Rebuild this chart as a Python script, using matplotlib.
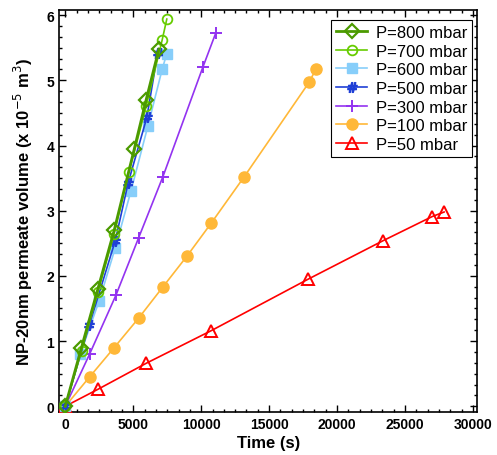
import matplotlib.pyplot as plt
from matplotlib.ticker import MultipleLocator

plt.rcParams['font.family'] = ['Liberation Sans', 'DejaVu Sans']

# ---------------------------------------------
# DATA
# ---------------------------------------------

t800 = [0, 1180, 2400, 3600, 5070, 5950, 6890]
v800 = [0, 0.89, 1.80, 2.70, 3.94, 4.70, 5.48]

t700 = [0, 1200, 2400, 3600, 4700, 5950, 7130, 7470]
v700 = [0, 0.85, 1.75, 2.65, 3.60, 4.60, 5.62, 5.94]

t600 = [0, 1100, 2500, 3680, 4830, 6080, 7130, 7470]
v600 = [0, 0.80, 1.62, 2.43, 3.30, 4.30, 5.17, 5.41]

t500 = [0, 1760, 3680, 4630, 6000, 6800]
v500 = [0, 1.24, 2.54, 3.43, 4.43, 5.42]

t300 = [0, 1790, 3720, 5390, 7180, 10120, 11080]
v300 = [0, 0.80, 1.70, 2.58, 3.52, 5.20, 5.73]

t100 = [0, 1790, 3560, 5390, 7180, 8940, 10740, 13160, 17940, 18460]
v100 = [0, 0.45, 0.89, 1.35, 1.83, 2.30, 2.81, 3.52, 4.97, 5.18]

t50 = [0, 2400, 5960, 10740, 17870, 23380, 26990, 27870]
v50 = [0, 0.26, 0.66, 1.16, 1.95, 2.54, 2.91, 2.98]

# ---------------------------------------------
# PLOT
# ---------------------------------------------

fig = plt.figure(figsize=(4.97, 4.56), dpi=100)
ax = fig.add_axes([0.119, 0.094, 0.841, 0.882])

ax.plot(t800, v800, color='#4B9A00', lw=2, marker='D', ms=7.5, mfc='none',
        mew=1.6, label='P=800 mbar', zorder=7)
ax.plot(t700, v700, color='#66CC00', lw=1.2, marker='o', ms=7, mfc='none',
        mew=1.3, label='P=700 mbar', zorder=6)
ax.plot(t600, v600, color='#87CEFA', lw=1.2, marker='s', ms=7.5,
        label='P=600 mbar', zorder=4)
ax.plot(t500, v500, color='#1F3FD6', lw=1.2, marker=r'$\#$', ms=7,
        label='P=500 mbar', zorder=5)
ax.plot(t300, v300, color='#9333F0', lw=1.2, marker='+', ms=9, mew=1.4,
        label='P=300 mbar', zorder=3)
ax.plot(t100, v100, color='#FFB838', lw=1.2, marker='o', ms=8,
        label='P=100 mbar', zorder=3)
ax.plot(t50, v50, color='#FF0000', lw=1.2, marker='^', ms=8, mfc='none',
        mew=1.4, label='P=50 mbar', zorder=3)

ax.set_xlim(-450, 30300)
ax.set_ylim(-0.09, 6.08)

ax.xaxis.set_major_locator(MultipleLocator(5000))
ax.xaxis.set_minor_locator(MultipleLocator(5000 / 6))
ax.yaxis.set_major_locator(MultipleLocator(1))
ax.yaxis.set_minor_locator(MultipleLocator(1 / 6))

ax.tick_params(which='both', direction='in', top=True, right=True,
               labelsize=10, width=1)
ax.tick_params(which='major', length=5)
ax.tick_params(which='minor', length=2.5)
for lab in ax.get_xticklabels() + ax.get_yticklabels():
    lab.set_fontweight('bold')
for sp in ax.spines.values():
    sp.set_linewidth(1.2)

ax.set_xlabel('Time (s)', fontsize=12, fontweight='bold', labelpad=3)
ax.set_ylabel(r'NP-20nm permeate volume (x 10$^{-5}$ m$^{3}$)',
              fontsize=12, fontweight='bold', labelpad=8)

leg = ax.legend(loc='upper right', bbox_to_anchor=(0.988, 0.975),
                fontsize=12, frameon=True, fancybox=False,
                edgecolor='black', framealpha=1, handlelength=1.9,
                borderpad=0.3, labelspacing=0.22, handletextpad=0.5,
                borderaxespad=0)
leg.get_frame().set_linewidth(0.8)

fig.savefig('out.png', dpi=100)
